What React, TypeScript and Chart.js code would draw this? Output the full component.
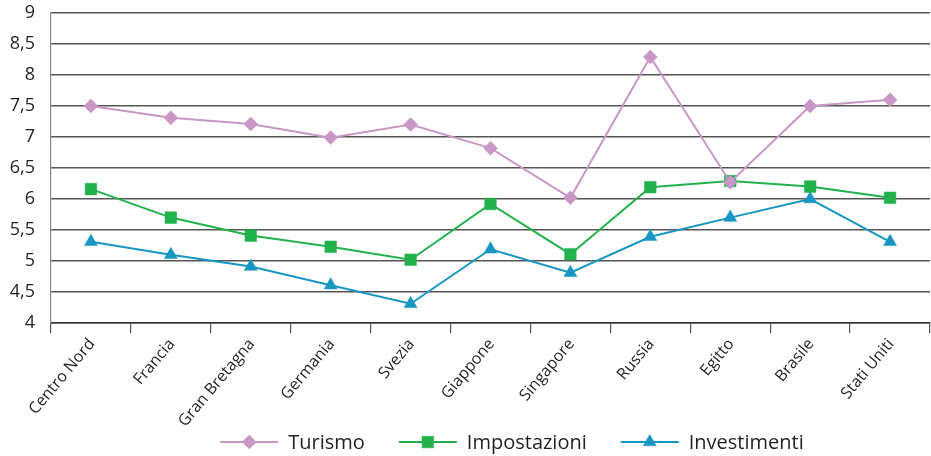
import React, { useEffect, useRef } from "react";
import { Chart, registerables } from "chart.js";
import { drawPoint } from "chart.js/helpers";

Chart.register(...registerables);

const categories = [
  "Centro Nord", "Francia", "Gran Bretagna", "Germania", "Svezia", "Giappone",
  "Singapore", "Russia", "Egitto", "Brasile", "Stati Uniti",
];
const turismo = [7.5, 7.31, 7.21, 6.99, 7.2, 6.82, 6.02, 8.29, 6.27, 7.5, 7.6];
const impostazioni = [6.16, 5.7, 5.41, 5.23, 5.02, 5.92, 5.11, 6.19, 6.29, 6.2, 6.02];
const investimenti = [5.31, 5.1, 4.91, 4.61, 4.31, 5.19, 4.81, 5.39, 5.7, 6.0, 5.31];
const yTicks = [4, 4.5, 5, 5.5, 6, 6.5, 7, 7.5, 8, 8.5, 9];

const PINK = "#c897c6";
const GREEN = "#22b14c";
const BLUE = "#1896c2";
const FONT = "'Open Sans', 'Noto Sans', sans-serif";

const legendPlugin = {
  id: "customLegend",
  afterDraw(chart: any) {
    const ctx = chart.ctx;
    const ds = chart.data.datasets;
    const lineW = 58;
    const gapText = 10;
    const gapItem = 34;
    const y = 442;
    ctx.save();
    ctx.font = `20px ${FONT}`;
    const widths = ds.map((d: any) => lineW + gapText + ctx.measureText(d.label).width);
    const total = widths.reduce((a: number, b: number) => a + b, 0) + gapItem * (ds.length - 1);
    let x = 512 - total / 2;
    ds.forEach((d: any, i: number) => {
      ctx.strokeStyle = d.borderColor;
      ctx.lineWidth = 2;
      ctx.beginPath();
      ctx.moveTo(x, y);
      ctx.lineTo(x + lineW, y);
      ctx.stroke();
      ctx.fillStyle = d.pointBackgroundColor;
      ctx.strokeStyle = d.pointBackgroundColor;
      ctx.lineWidth = 0.5;
      drawPoint(ctx, { pointStyle: d.pointStyle, radius: d.pointRadius, borderWidth: 0.5, rotation: 0 } as any, x + lineW / 2, y);
      ctx.fillStyle = "#231f20";
      ctx.textBaseline = "middle";
      ctx.textAlign = "left";
      ctx.fillText(d.label, x + lineW + gapText, y + 1);
      x += widths[i] + gapItem;
    });
    ctx.restore();
  },
};

export default function App() {
  const ref = useRef<HTMLCanvasElement>(null);
  useEffect(() => {
    if (!ref.current) return;
    const mk = (label: string, data: number[], color: string, style: string, r: number) => ({
      label,
      data,
      borderColor: color,
      backgroundColor: color,
      pointBackgroundColor: color,
      pointBorderColor: color,
      pointBorderWidth: 0.5,
      pointStyle: style,
      pointRadius: r,
      borderWidth: 2,
      tension: 0,
    });
    const chart = new Chart(ref.current, {
      type: "line",
      data: {
        labels: categories,
        datasets: [
          mk("Turismo", turismo, PINK, "rectRot", 7),
          mk("Impostazioni", impostazioni, GREEN, "rect", 8.2),
          mk("Investimenti", investimenti, BLUE, "triangle", 7.5),
        ],
      },
      options: {
        animation: false,
        responsive: false,
        layout: { autoPadding: false, padding: { top: 13, right: 1, left: 0, bottom: 0 } },
        plugins: { legend: { display: false }, tooltip: { enabled: false } },
        scales: {
          x: {
            offset: true,
            grid: { offset: true, drawOnChartArea: false, drawTicks: true, tickLength: 10, color: "#555", lineWidth: 1.2 },
            border: { color: "#333", width: 1.5 },
            ticks: {
              autoSkip: false,
              minRotation: 50,
              maxRotation: 50,
              padding: 2,
              labelOffset: 1,
              color: "#231f20",
              font: { family: FONT, size: 16 },
            },
            afterFit: (s: any) => {
              s.height = 133;
              s.paddingLeft = 0;
              s.paddingRight = 0;
            },
          },
          y: {
            min: 4,
            max: 9,
            afterBuildTicks: (s: any) => { s.ticks = yTicks.map((v) => ({ value: v })); },
            grid: { drawTicks: false, color: "#555", lineWidth: 1.5 },
            border: { color: "#888", width: 1.2 },
            ticks: {
              padding: 16,
              color: "#231f20",
              font: { family: FONT, size: 18 },
              callback: (v: any) => String(v).replace(".", ","),
            },
            afterFit: (s: any) => {
              s.width = 51;
              s.paddingTop = 0;
              s.paddingBottom = 0;
            },
          },
        },
      },
      plugins: [legendPlugin],
    });
    return () => chart.destroy();
  }, []);
  return (
    <div style={{ position: "fixed", left: 0, top: 0, width: 931, height: 456, background: "#fff" }}>
      <canvas ref={ref} width={931} height={456} />
    </div>
  );
}
